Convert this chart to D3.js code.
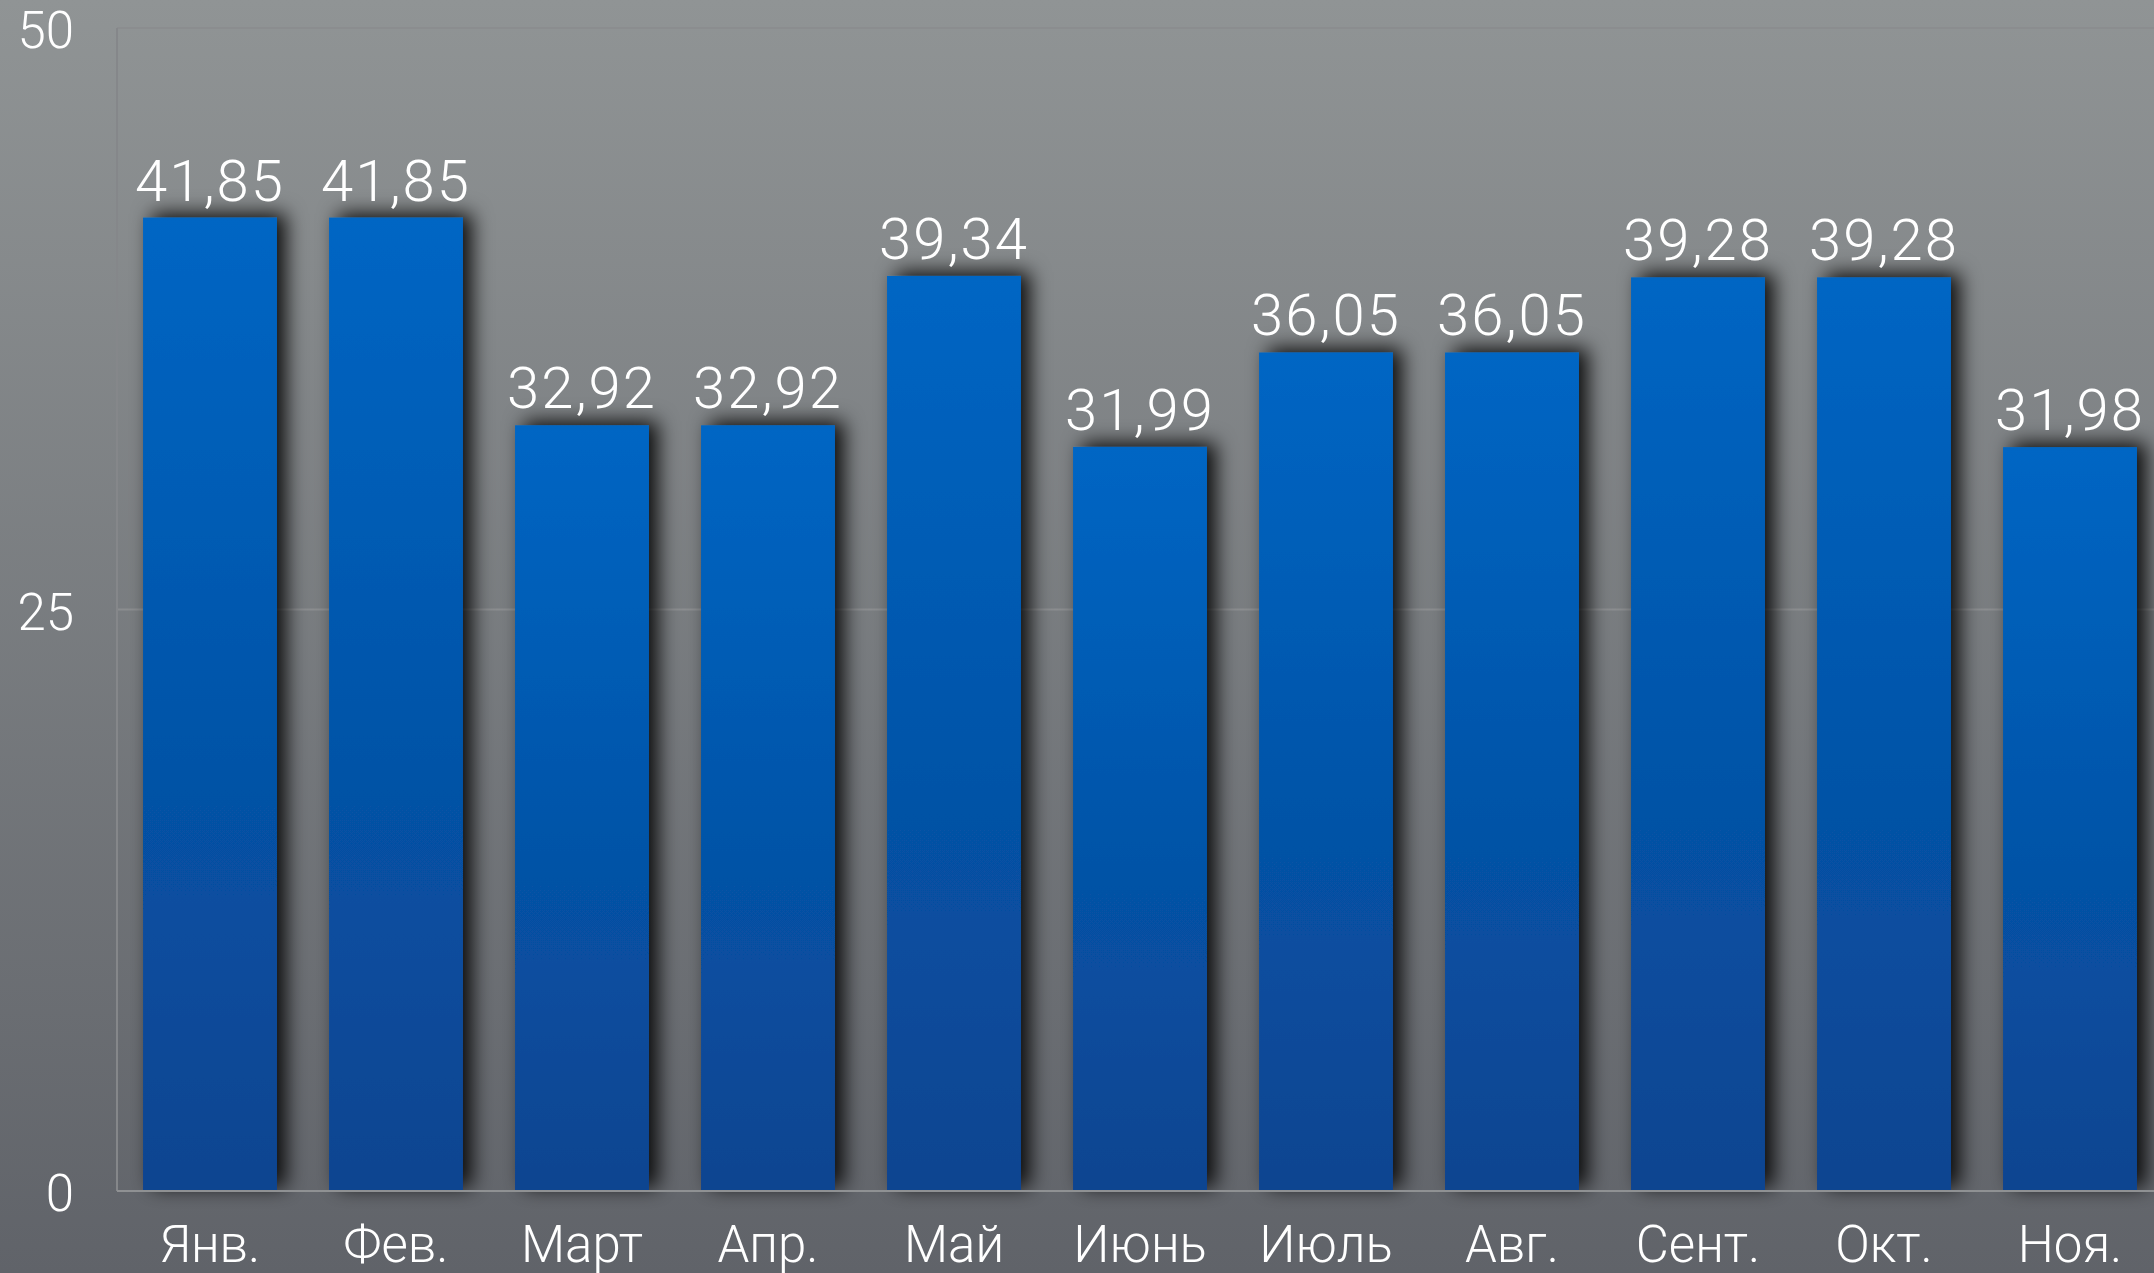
<!DOCTYPE html>
<html>
<head>
<meta charset="utf-8">
<script src="https://d3js.org/d3.v7.min.js"></script>
<style>
  body { margin: 0; overflow: hidden; }
  svg { display: block; }
  text { font-family: Roboto, "Liberation Sans", sans-serif; font-weight: 300; fill: #fff; }
</style>
</head>
<body>
<script>
// chart data
var months = ["Янв.", "Фев.", "Март", "Апр.", "Май", "Июнь", "Июль", "Авг.", "Сент.", "Окт.", "Ноя."];
var values = [41.85, 41.85, 32.92, 32.92, 39.34, 31.99, 36.05, 36.05, 39.28, 39.28, 31.98];
var yTicks = [0, 25, 50];

var W = 2154, H = 1273;
var plotLeft = 117, plotTop = 28, plotBottom = 1191;

var svg = d3.select("body").append("svg").attr("width", W).attr("height", H);
var defs = svg.append("defs");

var bg = defs.append("linearGradient").attr("id", "bg").attr("x1", 0).attr("y1", 0).attr("x2", 0).attr("y2", 1);
bg.append("stop").attr("offset", "0%").attr("stop-color", "#909495");
bg.append("stop").attr("offset", "100%").attr("stop-color", "#606369");

var bar = defs.append("linearGradient").attr("id", "bar").attr("x1", 0).attr("y1", 0).attr("x2", 0).attr("y2", 1);
bar.append("stop").attr("offset", "0%").attr("stop-color", "#0066c4");
bar.append("stop").attr("offset", "100%").attr("stop-color", "#0a4490");

var sh = defs.append("filter").attr("id", "shadow")
    .attr("x", "-30%").attr("y", "-15%").attr("width", "180%").attr("height", "140%");
sh.append("feDropShadow").attr("dx", 9).attr("dy", -4).attr("stdDeviation", 10)
    .attr("flood-color", "#000").attr("flood-opacity", 0.9);

svg.append("rect").attr("width", W).attr("height", H).attr("fill", "url(#bg)");

var x = d3.scaleBand().domain(months).range([plotLeft, plotLeft + 11 * 186])
    .paddingInner(0.28).paddingOuter(0.14);
var y = d3.scaleLinear().domain([0, 50]).range([plotBottom, plotTop]);

// grid + axes
svg.append("g").selectAll("line").data(yTicks.filter(d => d > 0)).join("line")
    .attr("x1", plotLeft).attr("x2", W)
    .attr("y1", d => y(d)).attr("y2", d => y(d))
    .attr("stroke", "#8b8d8f").attr("stroke-width", 2);
svg.append("line").attr("x1", plotLeft).attr("x2", plotLeft).attr("y1", plotTop).attr("y2", plotBottom)
    .attr("stroke", "#85878a").attr("stroke-width", 2);

svg.append("g").selectAll("text").data(yTicks).join("text")
    .attr("x", 74).attr("y", d => y(d) + 20)
    .attr("text-anchor", "end").attr("font-size", 51)
    .text(d => d);

// bars
svg.append("g").selectAll("rect").data(values).join("rect")
    .attr("x", (d, i) => x(months[i]))
    .attr("y", d => y(d))
    .attr("width", x.bandwidth())
    .attr("height", d => plotBottom - y(d))
    .attr("fill", "url(#bar)")
    .attr("filter", "url(#shadow)");

svg.append("line").attr("x1", plotLeft).attr("x2", W).attr("y1", plotBottom).attr("y2", plotBottom)
    .attr("stroke", "#8f9193").attr("stroke-width", 2);

// value labels
svg.append("g").selectAll("text").data(values).join("text")
    .attr("x", (d, i) => x(months[i]) + x.bandwidth() / 2)
    .attr("y", d => y(d) - 17)
    .attr("text-anchor", "middle").attr("font-size", 58)
    .attr("letter-spacing", 2)
    .text(d => d.toFixed(2).replace(".", ","));

// month labels
svg.append("g").selectAll("text").data(months).join("text")
    .attr("x", d => x(d) + x.bandwidth() / 2)
    .attr("y", 1262)
    .attr("text-anchor", "middle").attr("font-size", 51)
    .text(d => d);
</script>
</body>
</html>
